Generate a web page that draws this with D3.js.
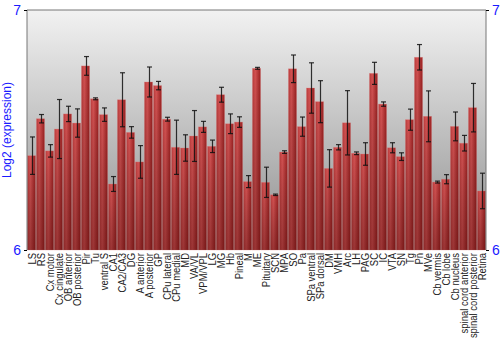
<!DOCTYPE html>
<html><head><meta charset="utf-8">
<script src="https://cdn.jsdelivr.net/npm/d3@7"></script>
<style>body{margin:0;background:#fff}svg{display:block}</style>
</head><body>
<script>
const categories = ["LS","RS","Cx motor","Cx cingulate","OB anterior","OB posterior","Pir","Tu","ventral S","CA1","CA2/CA3","DG","A anterior","A posterior","GP","CPu lateral","CPu medial","MD","VA/VL","VPM/VPL","LG","MG","Hb","Pineal","M","ME","Pituitary","SCN","MPA","SO","Pa","SPa ventral","SPa dorsal","DM","VMH","Arc","LH","PAG","SC","IC","VTA","SN","Tg","Pn","MVe","Cb vermis","Cb lobe","Cb nucleus","spinal cord anterior","spinal cord posterior","Retina"];
const means = [6.393,6.547,6.413,6.504,6.567,6.529,6.767,6.630,6.564,6.275,6.626,6.490,6.367,6.700,6.685,6.545,6.428,6.425,6.475,6.513,6.432,6.647,6.526,6.533,6.285,6.757,6.282,6.230,6.408,6.755,6.514,6.675,6.618,6.340,6.428,6.530,6.403,6.400,6.736,6.608,6.426,6.389,6.543,6.803,6.557,6.283,6.295,6.515,6.445,6.593,6.246];
const errors = [0.078,0.0175,0.026,0.123,0.032,0.059,0.039,0.004,0.028,0.031,0.1125,0.024,0.068,0.0625,0.0175,0.008,0.113,0.055,0.106,0.023,0.026,0.031,0.041,0.022,0.025,0.004,0.063,0.003,0.0055,0.0575,0.040,0.105,0.0875,0.078,0.011,0.134,0.0056,0.047,0.046,0.009,0.021,0.016,0.044,0.053,0.106,0.004,0.019,0.060,0.0325,0.101,0.074];
const yTicks = [6,7];

const W=500,H=350, L=27, R=486, T=10, B=250;
const svg=d3.select("body").append("svg").attr("width",W).attr("height",H);
const defs=svg.append("defs");
const bg=defs.append("linearGradient").attr("id","bg").attr("x1",0).attr("y1",0).attr("x2",0).attr("y2",1);
bg.append("stop").attr("offset","0%").attr("stop-color","#f2f2f2");
bg.append("stop").attr("offset","100%").attr("stop-color","#8e8e8e");
const bar=defs.append("linearGradient").attr("id","bar").attr("x1",0).attr("y1",0).attr("x2",1).attr("y2",0);
bar.append("stop").attr("offset","0%").attr("stop-color","#b83a3a");
bar.append("stop").attr("offset","35%").attr("stop-color","#d45252");
bar.append("stop").attr("offset","100%").attr("stop-color","#9a2020");
const shade=defs.append("linearGradient").attr("id","shade").attr("x1",0).attr("y1",0).attr("x2",0).attr("y2",1);
shade.append("stop").attr("offset","0%").attr("stop-color","#000").attr("stop-opacity",0);
shade.append("stop").attr("offset","100%").attr("stop-color","#300").attr("stop-opacity",0.35);

const x=d3.scaleBand().domain(categories).range([L,R]).paddingInner(0.1).paddingOuter(0.05);
const y=d3.scaleLinear().domain([6,7]).range([B,T]);

svg.append("rect").attr("x",L).attr("y",T).attr("width",R-L).attr("height",B-T).attr("fill","url(#bg)");

const g=svg.append("g");
g.selectAll("rect.b").data(categories).join("rect").attr("class","b")
 .attr("x",d=>x(d)).attr("width",x.bandwidth())
 .attr("y",(d,i)=>y(means[i])).attr("height",(d,i)=>y(6)-y(means[i]))
 .attr("fill","url(#bar)").attr("stroke","#e08080").attr("stroke-opacity",0.5).attr("stroke-width",0.6);
g.selectAll("rect.s").data(categories).join("rect").attr("class","s")
 .attr("x",d=>x(d)).attr("width",x.bandwidth())
 .attr("y",(d,i)=>y(means[i])).attr("height",(d,i)=>y(6)-y(means[i]))
 .attr("fill","url(#shade)");

const eb=svg.append("g").attr("stroke","#111").attr("stroke-width",1.2).attr("stroke-opacity",0.85);
categories.forEach((c,i)=>{
  const cx=Math.round(x(c)+x.bandwidth()/2)+0.5;
  const y1=y(means[i]+errors[i]), y2=y(means[i]-errors[i]);
  eb.append("line").attr("x1",cx).attr("x2",cx).attr("y1",y1).attr("y2",y2);
  eb.append("line").attr("x1",cx-2.5).attr("x2",cx+2.5).attr("y1",y1).attr("y2",y1);
  eb.append("line").attr("x1",cx-2.5).attr("x2",cx+2.5).attr("y1",y2).attr("y2",y2);
});

// frame
svg.append("line").attr("x1",L).attr("x2",R).attr("y1",T).attr("y2",T).attr("stroke","#777");
svg.append("line").attr("x1",L).attr("x2",L).attr("y1",T).attr("y2",B).attr("stroke","#777");
svg.append("line").attr("x1",R).attr("x2",R).attr("y1",T).attr("y2",B).attr("stroke","#777");

const yl=svg.append("g").attr("transform",`translate(${L},0)`).call(d3.axisLeft(y).tickValues(yTicks).tickSize(3).tickFormat(d3.format("d")));
const yr=svg.append("g").attr("transform",`translate(${R},0)`).call(d3.axisRight(y).tickValues(yTicks).tickSize(3).tickFormat(d3.format("d")));
[yl,yr].forEach(a=>{a.select(".domain").remove();a.selectAll("line").attr("stroke","#000");
  a.selectAll("text").attr("fill","#1a1aff").attr("font-family","Liberation Sans, Arial, sans-serif").attr("font-size",14);});

svg.append("text").attr("transform",`translate(11,${(T+B)/2}) rotate(-90)`).attr("text-anchor","middle")
 .attr("fill","#1a1aff").attr("font-family","Liberation Sans, Arial, sans-serif").attr("font-size",12).text("Log2 (expression)");

svg.append("g").selectAll("text").data(categories).join("text")
 .attr("transform",d=>`translate(${x(d)+x.bandwidth()/2+4},${B+3}) rotate(-90) scale(0.86,1)`)
 .attr("text-anchor","end").attr("fill","#222").attr("font-family","Liberation Sans, Arial, sans-serif").attr("font-size",11)
 .text(d=>d);
</script>
</body></html>
